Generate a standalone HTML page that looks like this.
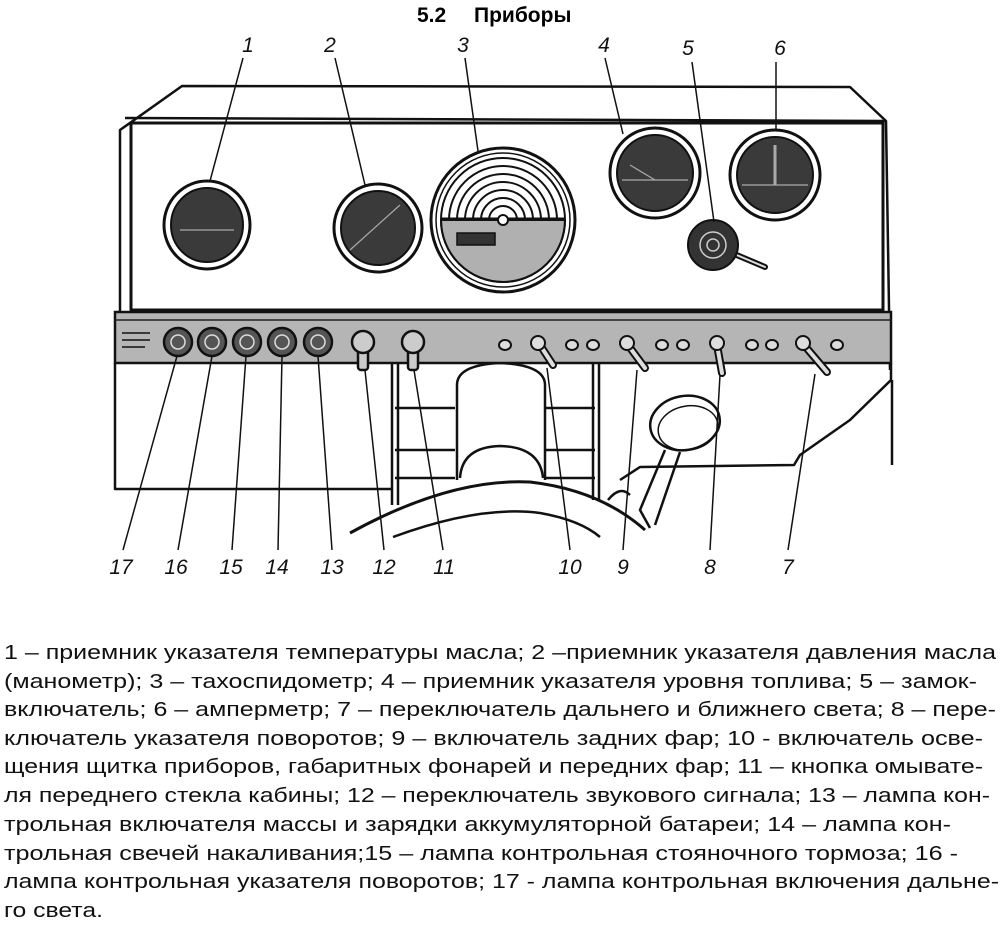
<!DOCTYPE html>
<html><head><meta charset="utf-8"><style>
html,body{margin:0;padding:0;background:#fff;}
svg{display:block;}
</style></head><body>
<svg width="1008" height="931" viewBox="0 0 1008 931" xmlns="http://www.w3.org/2000/svg" font-family="Liberation Sans, sans-serif">
<text x="417" y="22" font-size="21" font-weight="bold">5.2</text>
<text x="474" y="22" font-size="21" font-weight="bold">Приборы</text>
<g fill="none" stroke="#111" stroke-width="2.5" stroke-linejoin="round">
  <path d="M120,360 L120,130 L182,86 L850,87 L886,121 L890,370"/>
  <path d="M125,118 L886,121"/>
  <rect x="131" y="123" width="752" height="187" stroke-width="3"/>
  <path d="M115,363 L115,489 L391,489"/>
  <path d="M891,363 L891,380 L850,420 L800,455 L794,465 L640,467 L620,480"/>
  <path d="M892,380 L892,465"/>
  <path d="M392,363 L392,505 M398,363 L398,505 M593,363 L593,500 M599,363 L599,500"/>
  <path d="M395,408 L455,408 M545,408 L595,408 M395,450 L455,450 M545,450 L595,450 M395,478 L455,478 M545,478 L595,478"/>
  <path d="M457,480 L457,385 Q457,365 500,363 Q545,365 545,385 L545,480"/>
  <path d="M460,478 Q462,447 500,446 Q540,447 543,478"/>
  <path d="M350,533 Q450,478 530,482 Q600,490 645,530" stroke-width="3"/>
  <path d="M393,537 Q480,505 540,513 Q580,520 600,537"/>
  <ellipse cx="685" cy="423" rx="35" ry="27" transform="rotate(-10 685 423)"/>
  <ellipse cx="688" cy="428" rx="30" ry="22" transform="rotate(-10 688 428)" stroke-width="1.5"/>
  <path d="M665,450 L640,510 L650,528 M680,452 L655,525"/>
  <path d="M608,500 Q620,485 630,495"/>
</g>
<rect x="115" y="312" width="776" height="51" fill="#b5b5b5" stroke="#111" stroke-width="2.5"/>
<line x1="115" y1="320" x2="891" y2="320" stroke="#222" stroke-width="1.5"/>
<g stroke="#111" stroke-width="1.5">
  <line x1="122" y1="333" x2="150" y2="333"/><line x1="122" y1="340" x2="150" y2="340"/><line x1="122" y1="347" x2="145" y2="347"/>
</g>
<g fill="#555" stroke="#111" stroke-width="2.5">
  <circle cx="178" cy="342" r="14"/><circle cx="212" cy="342" r="14"/><circle cx="247" cy="342" r="14"/><circle cx="282" cy="342" r="14"/><circle cx="318" cy="342" r="14"/>
</g>
<g fill="none" stroke="#ddd" stroke-width="1.5">
  <circle cx="178" cy="342" r="7"/><circle cx="212" cy="342" r="7"/><circle cx="247" cy="342" r="7"/><circle cx="282" cy="342" r="7"/><circle cx="318" cy="342" r="7"/>
</g>
<g stroke="#111" stroke-width="2.5" fill="#ccc">
  <rect x="358" y="345" width="10" height="25" rx="3"/><circle cx="363" cy="342" r="11"/>
  <rect x="408" y="345" width="10" height="25" rx="3"/><circle cx="413" cy="342" r="11"/>
</g>
<g fill="#ddd" stroke="#111" stroke-width="2">
  <ellipse cx="505" cy="345" rx="6" ry="5"/><ellipse cx="572" cy="345" rx="6" ry="5"/><ellipse cx="593" cy="345" rx="6" ry="5"/><ellipse cx="662" cy="345" rx="6" ry="5"/><ellipse cx="683" cy="345" rx="6" ry="5"/><ellipse cx="752" cy="345" rx="6" ry="5"/><ellipse cx="772" cy="345" rx="6" ry="5"/><ellipse cx="837" cy="345" rx="6" ry="5"/>
</g>
<g stroke="#111" stroke-width="8" stroke-linecap="round"><line x1="540" y1="345" x2="553" y2="365"/><line x1="628" y1="345" x2="645" y2="368"/><line x1="717" y1="345" x2="722" y2="373"/><line x1="804" y1="345" x2="827" y2="372"/></g>
<g stroke="#ddd" stroke-width="4" stroke-linecap="round"><line x1="540" y1="345" x2="553" y2="365"/><line x1="628" y1="345" x2="645" y2="368"/><line x1="717" y1="345" x2="722" y2="373"/><line x1="804" y1="345" x2="827" y2="372"/></g>
<g fill="#ddd" stroke="#111" stroke-width="2"><circle cx="538" cy="343" r="7"/><circle cx="627" cy="343" r="7"/><circle cx="717" cy="343" r="7"/><circle cx="803" cy="343" r="7"/></g>
<g stroke="#111">
  <ellipse cx="207" cy="225" rx="43" ry="44" fill="#fff" stroke-width="3"/>
  <ellipse cx="207" cy="225" rx="36" ry="37" fill="#3a3a3a" stroke-width="2"/>
  <ellipse cx="378" cy="228" rx="44" ry="44" fill="#fff" stroke-width="3"/>
  <ellipse cx="378" cy="228" rx="37" ry="37" fill="#3a3a3a" stroke-width="2"/>
  <circle cx="655" cy="173" r="45" fill="#fff" stroke-width="3"/>
  <circle cx="655" cy="173" r="38" fill="#3a3a3a" stroke-width="2"/>
  <circle cx="775" cy="175" r="45" fill="#fff" stroke-width="3"/>
  <circle cx="775" cy="175" r="38" fill="#3a3a3a" stroke-width="2"/>
  <line x1="713" y1="245" x2="765" y2="267" stroke-width="6" stroke-linecap="round"/>
  <line x1="713" y1="245" x2="765" y2="267" stroke="#ddd" stroke-width="2" stroke-linecap="round"/>
  <circle cx="713" cy="245" r="25" fill="#333" stroke-width="2"/>
  <circle cx="713" cy="245" r="13" fill="none" stroke="#ccc" stroke-width="1.5"/>
  <circle cx="713" cy="245" r="6" fill="none" stroke="#ccc" stroke-width="1.5"/>
</g>
<g stroke="#aaa" stroke-width="1.2" fill="none">
  <line x1="180" y1="230" x2="234" y2="230"/><line x1="350" y1="250" x2="400" y2="205"/><line x1="622" y1="180" x2="688" y2="180"/><line x1="742" y1="185" x2="808" y2="185"/><line x1="775" y1="145" x2="775" y2="185" stroke-width="3"/><line x1="630" y1="165" x2="655" y2="180"/>
</g>
<g fill="none" stroke="#111">
  <circle cx="503" cy="220" r="72" fill="#fff" stroke-width="3"/>
  <circle cx="503" cy="220" r="67" stroke-width="1.5"/>
  <path d="M441,220 A62,62 0 0,0 565,220 Z" fill="#b0b0b0" stroke-width="2"/>
  <circle cx="503" cy="220" r="62" stroke-width="2"/>
  <path d="M449,220 A54,54 0 0,1 557,220 M457,220 A46,46 0 0,1 549,220 M465,220 A38,38 0 0,1 541,220 M473,220 A30,30 0 0,1 533,220 M481,220 A22,22 0 0,1 525,220 M489,220 A14,14 0 0,1 517,220" stroke-width="2"/>
  <line x1="442" y1="219" x2="565" y2="219" stroke-width="3"/>
  <circle cx="503" cy="220" r="5" fill="#fff" stroke-width="2"/>
  <rect x="457" y="233" width="38" height="12" fill="#333" stroke-width="1.5"/>
</g>
<g stroke="#111" stroke-width="1.5">
  <line x1="243" y1="58" x2="210" y2="181"/><line x1="335" y1="58" x2="365" y2="185"/><line x1="465" y1="58" x2="478" y2="151"/><line x1="605" y1="58" x2="623" y2="134"/><line x1="692" y1="62" x2="714" y2="222"/><line x1="776" y1="62" x2="776" y2="131"/>
  <line x1="123" y1="550" x2="177" y2="356"/><line x1="178" y1="550" x2="212" y2="356"/><line x1="232" y1="550" x2="246" y2="356"/><line x1="278" y1="550" x2="282" y2="356"/><line x1="332" y1="550" x2="318" y2="356"/><line x1="384" y1="550" x2="365" y2="370"/><line x1="443" y1="550" x2="414" y2="370"/><line x1="570" y1="550" x2="547" y2="368"/><line x1="623" y1="550" x2="637" y2="370"/><line x1="710" y1="550" x2="720" y2="375"/><line x1="788" y1="550" x2="815" y2="374"/>
</g>
<g font-size="21" font-style="italic" text-anchor="middle" fill="#111">
  <text x="248" y="52">1</text><text x="330" y="52">2</text><text x="463" y="52">3</text><text x="604" y="52">4</text><text x="688" y="55">5</text><text x="780" y="55">6</text>
  <text x="121" y="574">17</text><text x="176" y="574">16</text><text x="231" y="574">15</text><text x="277" y="574">14</text><text x="332" y="574">13</text><text x="384" y="574">12</text><text x="444" y="574">11</text><text x="570" y="574">10</text><text x="623" y="574">9</text><text x="710" y="574">8</text><text x="788" y="574">7</text>
</g>
<g font-size="20" fill="#111">
  <text x="4" y="659" textLength="992" lengthAdjust="spacingAndGlyphs">1 – приемник указателя температуры масла; 2 –приемник указателя давления масла</text>
  <text x="4" y="688" textLength="973" lengthAdjust="spacingAndGlyphs">(манометр); 3 – тахоспидометр; 4 – приемник указателя уровня топлива; 5 – замок-</text>
  <text x="4" y="716" textLength="992" lengthAdjust="spacingAndGlyphs">включатель; 6 – амперметр; 7 – переключатель дальнего и ближнего света; 8 – пере-</text>
  <text x="4" y="745" textLength="979" lengthAdjust="spacingAndGlyphs">ключатель указателя поворотов; 9 – включатель задних фар; 10 -  включатель осве-</text>
  <text x="4" y="773" textLength="979" lengthAdjust="spacingAndGlyphs">щения щитка приборов, габаритных фонарей и передних фар; 11 – кнопка омывате-</text>
  <text x="4" y="802" textLength="986" lengthAdjust="spacingAndGlyphs">ля переднего стекла кабины; 12 – переключатель звукового сигнала; 13 – лампа кон-</text>
  <text x="4" y="831" textLength="947" lengthAdjust="spacingAndGlyphs">трольная включателя массы и зарядки аккумуляторной батареи; 14 – лампа кон-</text>
  <text x="4" y="860" textLength="954" lengthAdjust="spacingAndGlyphs">трольная свечей накаливания;15 – лампа контрольная стояночного тормоза; 16 -</text>
  <text x="4" y="888" textLength="995" lengthAdjust="spacingAndGlyphs">лампа контрольная указателя поворотов; 17 - лампа контрольная включения дальне-</text>
  <text x="4" y="917" textLength="99" lengthAdjust="spacingAndGlyphs">го света.</text>
</g>
</svg>
</body></html>
